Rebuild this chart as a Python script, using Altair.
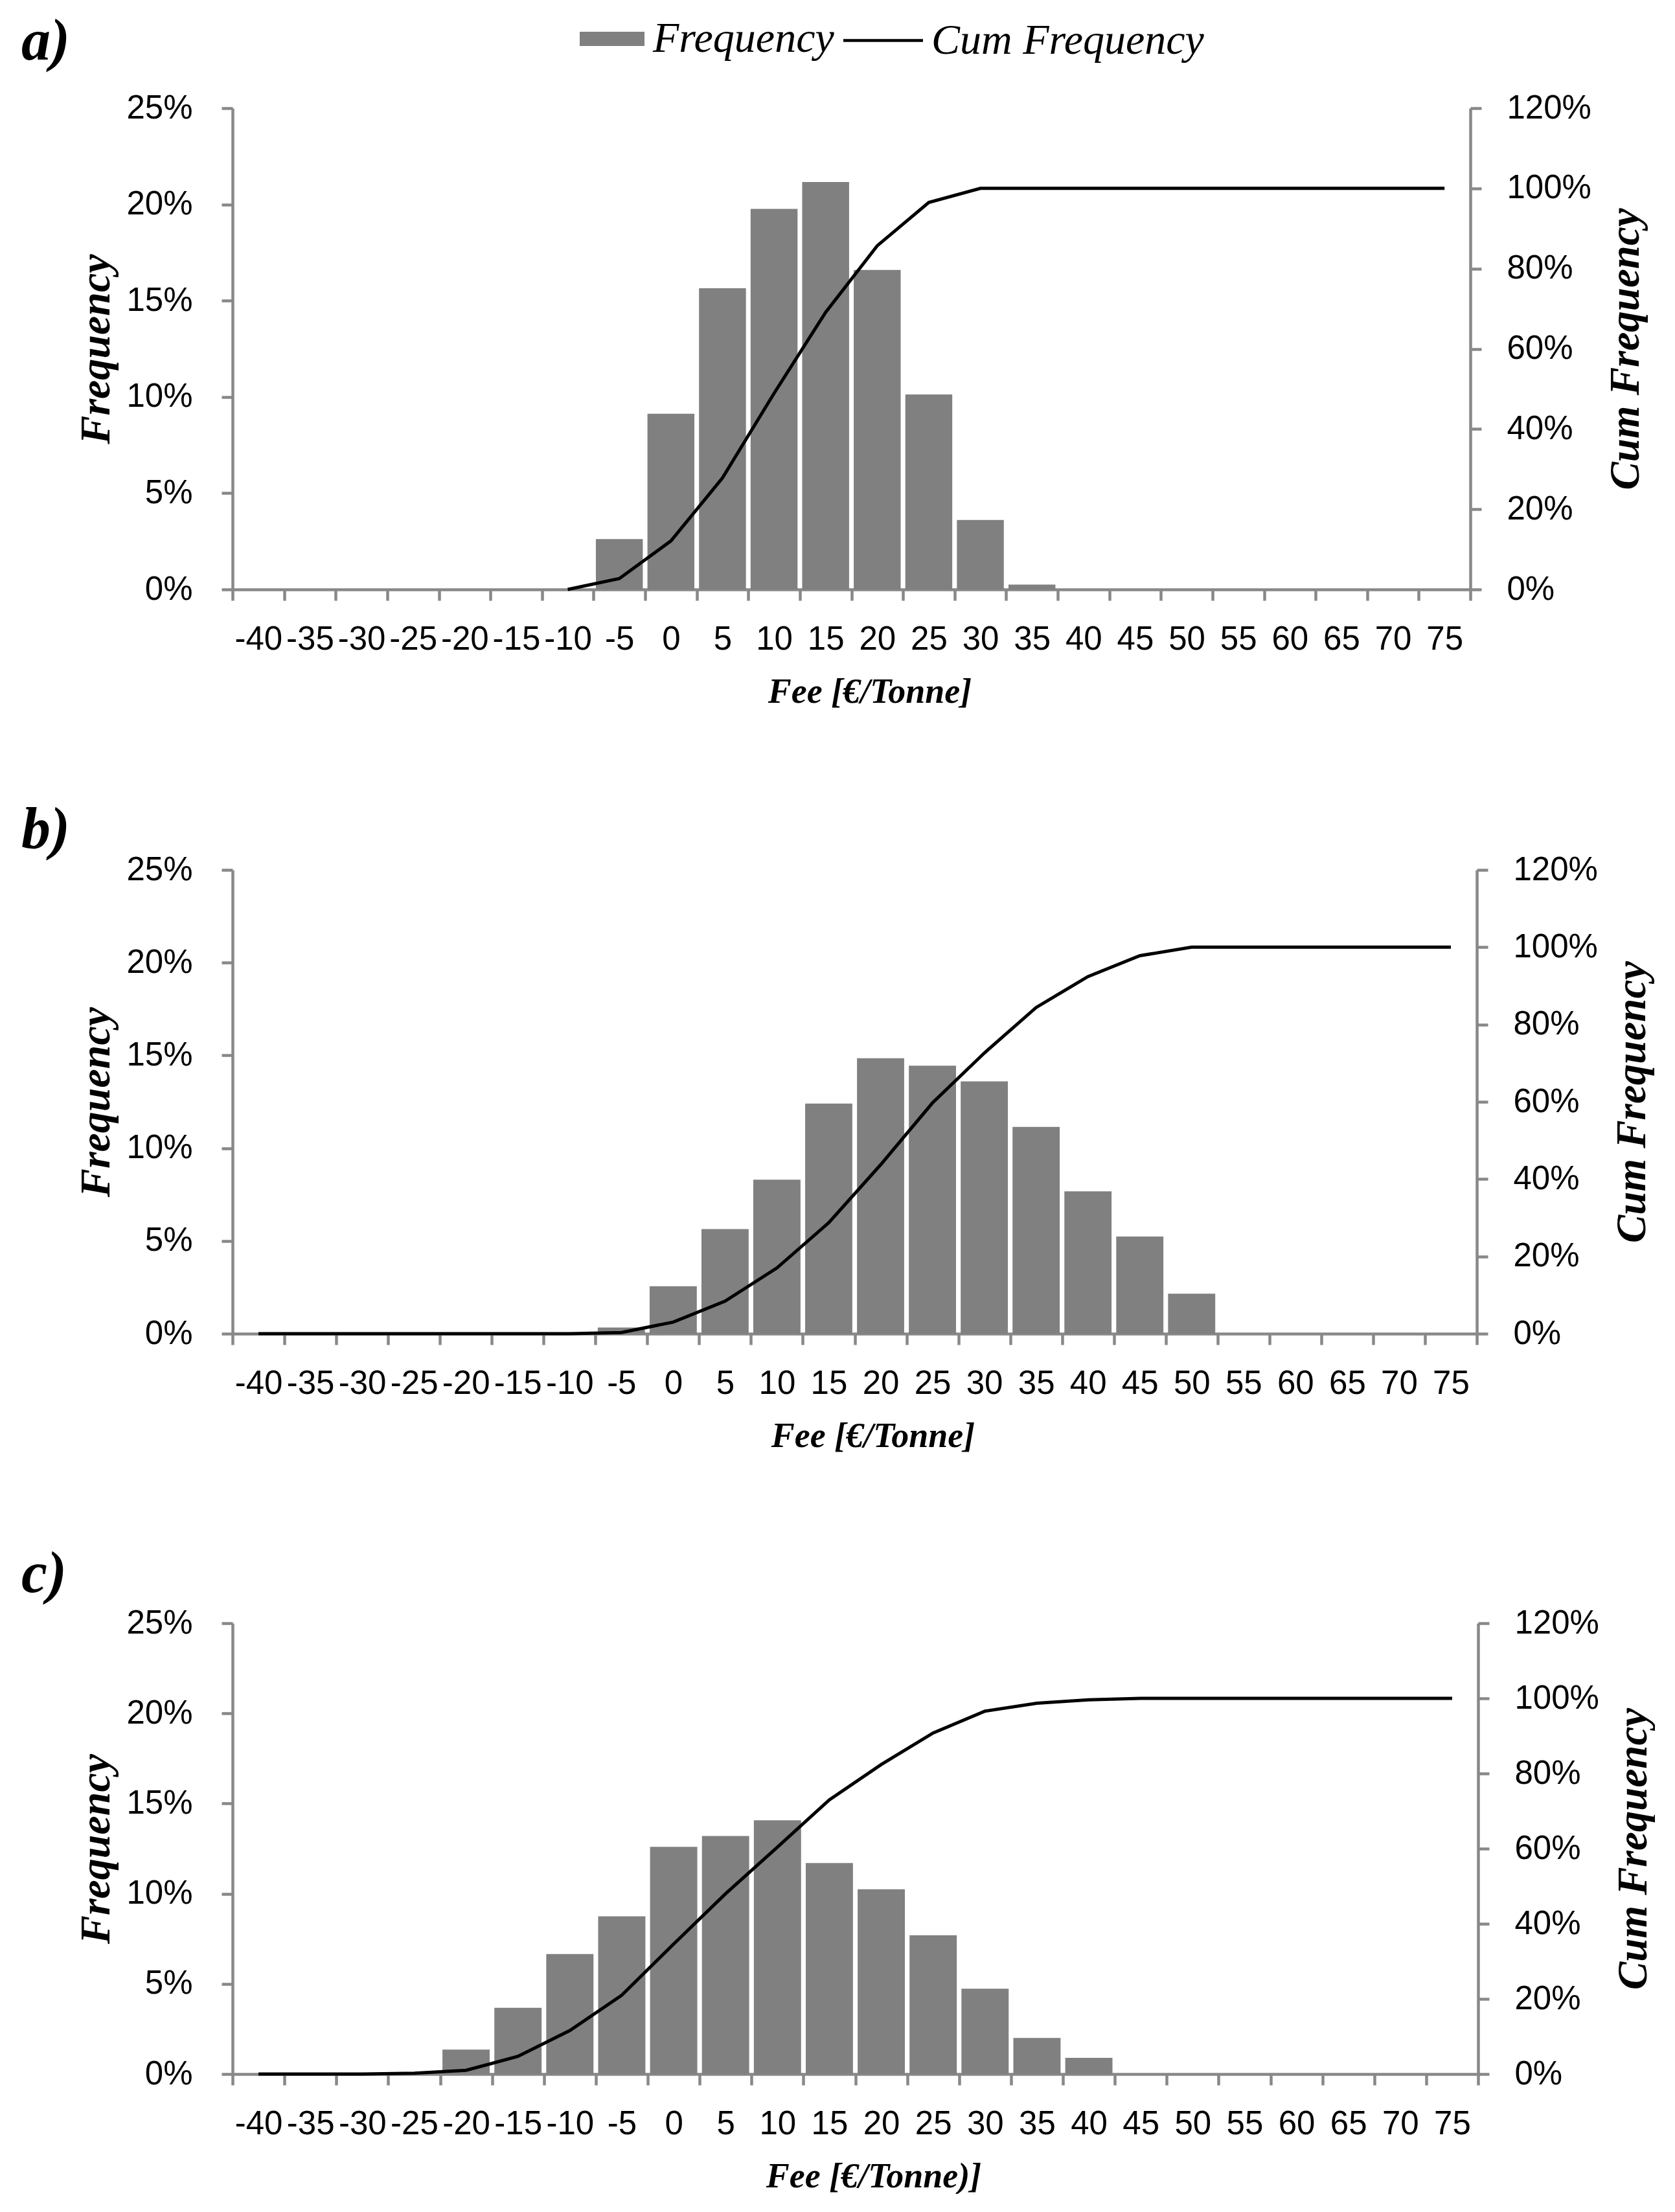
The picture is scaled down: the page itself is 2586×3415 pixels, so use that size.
import altair as alt
import pandas as pd

# Fee categories (x axis)
fee_labels = ["-40", "-35", "-30", "-25", "-20", "-15", "-10", "-5", "0", "5", "10", "15",
              "20", "25", "30", "35", "40", "45", "50", "55", "60", "65", "70", "75"]

# Panel a) frequency (%) and cumulative frequency (%)
freq_a = [0, 0, 0, 0, 0, 0, 0, 2.62, 9.13, 15.65, 19.77, 21.16, 16.6, 10.13, 3.61, 0.25,
          0, 0, 0, 0, 0, 0, 0, 0]
cum_a = [None, None, None, None, None, None, 0, 2.7, 12.1, 27.8, 48.9, 69.1, 85.7, 96.5,
         100, 100, 100, 100, 100, 100, 100, 100, 100, 100]

# Panel b)
freq_b = [0, 0, 0, 0, 0, 0, 0, 0.33, 2.56, 5.64, 8.3, 12.4, 14.85, 14.45, 13.6, 11.15,
          7.67, 5.24, 2.16, 0, 0, 0, 0, 0]
cum_b = [0, 0, 0, 0, 0, 0, 0, 0.3, 3.0, 8.4, 17.0, 28.7, 43.7, 59.7, 72.6, 84.4,
         92.4, 97.8, 100, 100, 100, 100, 100, 100]

# Panel c)
freq_c = [0, 0, 0, 0, 1.36, 3.67, 6.65, 8.75, 12.6, 13.2, 14.07, 11.7, 10.25, 7.7, 4.73, 2.0,
          0.9, 0, 0, 0, 0, 0, 0, 0]
cum_c = [0, 0, 0, 0.2, 1.0, 4.7, 11.6, 21.0, 34.6, 48.0, 60.4, 73.0, 82.4, 90.8, 96.6, 98.7,
         99.6, 100, 100, 100, 100, 100, 100, 100]

left_ticks = [0, 0.05, 0.10, 0.15, 0.20, 0.25]
right_ticks = [0, 0.2, 0.4, 0.6, 0.8, 1.0, 1.2]

AX = "#888888"
SANS = "Liberation Sans"
SERIF = "Liberation Serif"


def panel(label, freq, cum, xtitle, width, height, title_offset, with_legend):
    df_bar = pd.DataFrame({"fee": fee_labels, "freq": [v / 100 for v in freq],
                           "series": ["Frequency"] * len(fee_labels)})
    df_line = pd.DataFrame({"fee": fee_labels,
                            "cum": [None if v is None else v / 100 for v in cum],
                            "series2": ["Cum Frequency"] * len(fee_labels)}).dropna()

    xscale = alt.Scale(domain=fee_labels, paddingInner=0, paddingOuter=0)
    x_bar = alt.X("fee:N", sort=fee_labels, scale=xscale,
                  axis=alt.Axis(title=xtitle, labelAngle=0, labelFont=SANS, labelFontSize=51,
                                labelColor="black", labelPadding=35, labelOverlap=False,
                                labelFlush=False, labelLimit=0, tickBand="extent", tickSize=17,
                                tickWidth=4.5, tickColor=AX, domainColor=AX, domainWidth=4.5,
                                titleFont=SERIF, titleFontSize=54, titleFontWeight="bold",
                                titleFontStyle="italic", titleColor="black", titlePadding=29,
                                titleX=width / 2 + 28))
    x_line = alt.X("fee:N", sort=fee_labels, scale=xscale)

    y_bar = alt.Y("freq:Q", scale=alt.Scale(domain=[0, 0.25], nice=False),
                  axis=alt.Axis(title="Frequency", values=left_ticks, format=".0%",
                                labelFont=SANS, labelFontSize=51, labelColor="black",
                                labelPadding=45, tickSize=17, tickWidth=4.5, tickColor=AX,
                                domainColor=AX, domainWidth=4.5, grid=False,
                                titleFont=SERIF, titleFontSize=66, titleFontWeight="bold",
                                titleFontStyle="italic", titleColor="black", titlePadding=12))
    y_line = alt.Y("cum:Q", scale=alt.Scale(domain=[0, 1.2], nice=False),
                   axis=alt.Axis(title="Cum Frequency", orient="right", values=right_ticks,
                                 format=".0%", labelFont=SANS, labelFontSize=51,
                                 labelColor="black", labelPadding=39, tickSize=17,
                                 tickWidth=4.5, tickColor=AX, domainColor=AX, domainWidth=4.5,
                                 grid=False, titleFont=SERIF, titleFontSize=65,
                                 titleFontWeight="bold", titleFontStyle="italic",
                                 titleColor="black", titleAngle=270, titleBaseline="top",
                                 titlePadding=22))

    bar_enc = dict(x=x_bar, y=y_bar)
    line_enc = dict(x=x_line, y=y_line)
    if with_legend:
        bar_enc["fill"] = alt.Fill(
            "series:N", scale=alt.Scale(domain=["Frequency"], range=["#808080"]),
            legend=alt.Legend(orient="none", legendX=536, legendY=-157, title=None,
                              labelFont=SERIF, labelFontStyle="italic", labelFontSize=66,
                              labelColor="black", labelLimit=0,
                              symbolType="M-1,-0.22H1V0.22H-1Z",
                              symbolSize=10000, symbolStrokeWidth=0, labelOffset=13,
                              padding=0))
        line_enc["stroke"] = alt.Stroke(
            "series2:N", scale=alt.Scale(domain=["Cum Frequency"], range=["black"]),
            legend=alt.Legend(orient="none", legendX=952, legendY=-157, title=None,
                              labelFont=SERIF, labelFontStyle="italic", labelFontSize=66,
                              labelColor="black", labelLimit=0, symbolType="M-1.23,0H1.23",
                              symbolSize=10000, symbolStrokeWidth=4.5, labelOffset=22,
                              padding=0))

    bars = alt.Chart(df_bar).mark_bar(width=alt.RelativeBandSize(0.91), color="#808080").encode(**bar_enc)
    line = alt.Chart(df_line).mark_line(color="black", strokeWidth=5).encode(**line_enc)

    return alt.layer(bars, line).resolve_scale(y="independent").properties(
        width=width, height=height,
        title=alt.TitleParams(label, anchor="start", frame="group", font=SERIF, fontSize=90,
                              fontWeight="bold", fontStyle="italic", color="black",
                              dx=-326, offset=title_offset))


pa = panel("a)", freq_a, cum_a, "Fee [€/Tonne]", 1911, 743, 30, True)
pb = panel("b)", freq_b, cum_b, "Fee [€/Tonne]", 1921, 716, -11, False)
pc = panel("c)", freq_c, cum_c, "Fee [€/Tonne)]", 1923, 696, 3, False)

chart = alt.vconcat(pa, alt.vconcat(pb, pc, spacing=142), spacing=142).properties(
    padding={"left": 25, "top": 2, "right": 0, "bottom": 0}
).configure_view(stroke=None)

chart.save("out.html", embed_options={"renderer": "svg", "actions": False})
